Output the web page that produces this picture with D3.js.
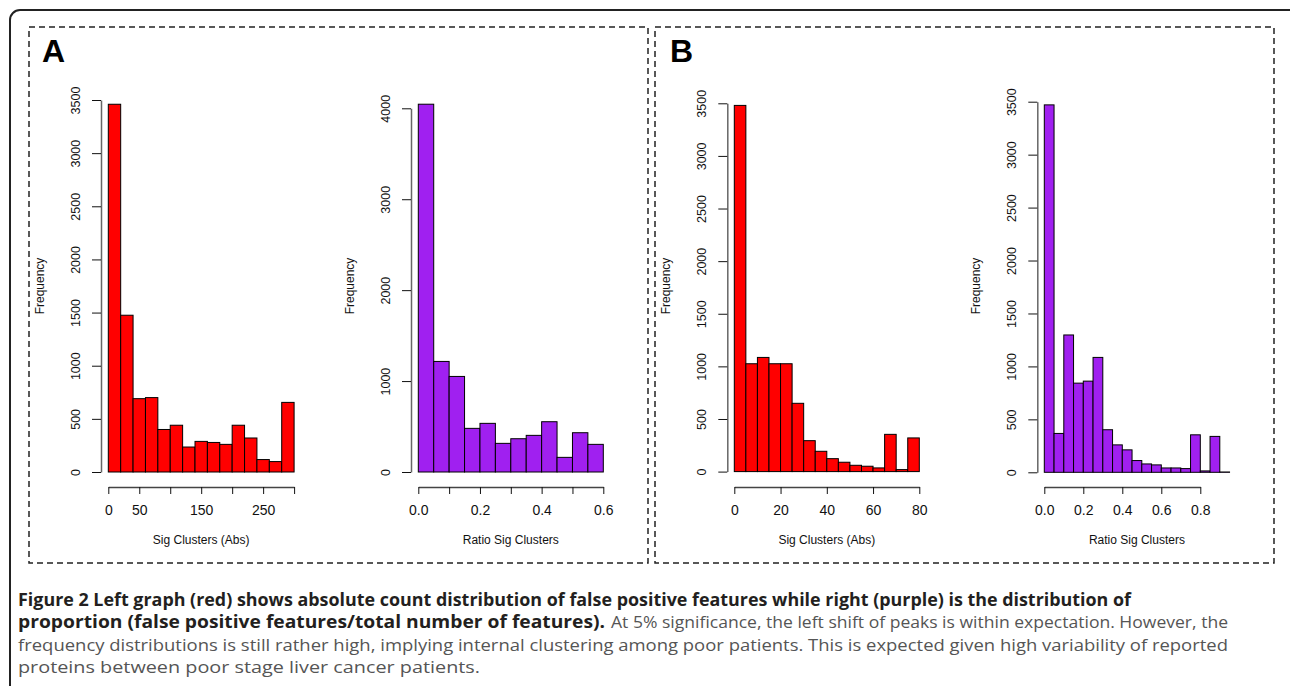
<!DOCTYPE html>
<html>
<head>
<meta charset="utf-8">
<script src="https://cdn.jsdelivr.net/npm/d3@7"></script>
<style>
  body { margin: 0; background: #fff; }
  svg { display: block; font-family: "Liberation Sans", Arial, sans-serif; }
</style>
</head>
<body>
<div id="chart"></div>
<script>
// ---- data ----
// A: absolute counts, bins of 20 (0..300)
const absA = [3460, 1475, 690, 700, 400, 440, 235, 288, 278, 260, 440, 320, 117, 98, 655];
const absABin = 20;
const absAXTicks = [0, 50, 100, 150, 200, 250, 300];
const absAXLabels = ['0', '50', '', '150', '', '250', ''];
const absAYTicks = [0, 500, 1000, 1500, 2000, 2500, 3000, 3500];

// A: ratio, bins of 0.05 (0..0.6)
const ratioA = [4045, 1216, 1051, 480, 535, 315, 366, 403, 553, 161, 432, 304];
const ratioABin = 0.05;
const ratioAXTicks = [0, 0.1, 0.2, 0.3, 0.4, 0.5, 0.6];
const ratioAXLabels = ['0.0', '', '0.2', '', '0.4', '', '0.6'];
const ratioAYTicks = [0, 1000, 2000, 3000, 4000];

// B: absolute counts, bins of 5 (0..80)
const absB = [3480, 1025, 1085, 1025, 1025, 649, 294, 193, 123, 89, 60, 51, 35, 354, 19, 320];
const absBBin = 5;
const absBXTicks = [0, 20, 40, 60, 80];
const absBXLabels = ['0', '20', '40', '60', '80'];
const absBYTicks = [0, 500, 1000, 1500, 2000, 2500, 3000, 3500];

// B: ratio, bins of 0.05 (0..0.95)
const ratioB = [3470, 367, 1297, 842, 861, 1085, 402, 259, 212, 111, 79, 70, 41, 41, 35, 354, 13, 339, 3];
const ratioBBin = 0.05;
const ratioBXTicks = [0, 0.2, 0.4, 0.6, 0.8];
const ratioBXLabels = ['0.0', '0.2', '0.4', '0.6', '0.8'];
const ratioBYTicks = [0, 500, 1000, 1500, 2000, 2500, 3000, 3500];

const captionBold1 = 'Figure 2 Left graph (red) shows absolute count distribution of false positive features while right (purple) is the distribution of';
const captionBold2 = 'proportion (false positive features/total number of features).';
const captionReg2 = 'At 5% significance, the left shift of peaks is within expectation. However, the';
const captionReg3 = 'frequency distributions is still rather high, implying internal clustering among poor patients. This is expected given high variability of reported';
const captionReg4 = 'proteins between poor stage liver cancer patients.';

const W = 1290, H = 686;
const RED = '#ff0000', PURPLE = '#a020f0';

const svg = d3.select('#chart')
  .append('svg')
  .attr('width', W)
  .attr('height', H);

// outer rounded frame (runs off the right/bottom edge)
svg.append('rect')
  .attr('x', 10).attr('y', 10)
  .attr('width', 1300).attr('height', 720)
  .attr('rx', 10)
  .attr('fill', 'none')
  .attr('stroke', '#222')
  .attr('stroke-width', 2);

// dashed panel boxes
[[29, 648], [655, 1274]].forEach(([x0, x1]) => {
  svg.append('rect')
    .attr('x', x0).attr('y', 27)
    .attr('width', x1 - x0).attr('height', 563 - 27)
    .attr('fill', 'none')
    .attr('stroke', '#222')
    .attr('stroke-width', 1.5)
    .attr('stroke-dasharray', '6,4');
});

svg.append('text').text('A')
  .attr('x', 42).attr('y', 62)
  .attr('font-size', 32).attr('font-weight', 'bold');
svg.append('text').text('B')
  .attr('x', 670).attr('y', 62)
  .attr('font-size', 32).attr('font-weight', 'bold');

const plots = [
  { counts: absA, bin: absABin, xTicks: absAXTicks, xLabels: absAXLabels, yTicks: absAYTicks,
    fill: RED, xTitle: 'Sig Clusters (Abs)',
    xDom: [0, 300], xRange: [108.3, 294.1], yDom: [0, 3500], yRange: [472, 100], axisX: 101 },
  { counts: ratioA, bin: ratioABin, xTicks: ratioAXTicks, xLabels: ratioAXLabels, yTicks: ratioAYTicks,
    fill: PURPLE, xTitle: 'Ratio Sig Clusters',
    xDom: [0, 0.6], xRange: [418.3, 603.3], yDom: [0, 4000], yRange: [472, 108.3], axisX: 411 },
  { counts: absB, bin: absBBin, xTicks: absBXTicks, xLabels: absBXLabels, yTicks: absBYTicks,
    fill: RED, xTitle: 'Sig Clusters (Abs)',
    xDom: [0, 80], xRange: [734.3, 919.3], yDom: [0, 3500], yRange: [471.6, 103.3], axisX: 727.3 },
  { counts: ratioB, bin: ratioBBin, xTicks: ratioBXTicks, xLabels: ratioBXLabels, yTicks: ratioBYTicks,
    fill: PURPLE, xTitle: 'Ratio Sig Clusters',
    xDom: [0, 0.8], xRange: [1044.3, 1200.3], yDom: [0, 3500], yRange: [472.3, 101.7], axisX: 1037.3 }
];

const axisY = 487;

plots.forEach(p => {
  const x = d3.scaleLinear().domain(p.xDom).range(p.xRange);
  const y = d3.scaleLinear().domain(p.yDom).range(p.yRange);
  const g = svg.append('g');

  g.selectAll('rect.bar')
    .data(p.counts)
    .enter()
    .append('rect')
    .attr('class', 'bar')
    .attr('x', (d, i) => x(i * p.bin))
    .attr('width', (d, i) => x((i + 1) * p.bin) - x(i * p.bin))
    .attr('y', d => y(d))
    .attr('height', d => y(0) - y(d))
    .attr('fill', p.fill)
    .attr('stroke', '#000')
    .attr('stroke-width', 1);

  // y axis
  const yAxis = d3.axisLeft(y)
    .tickValues(p.yTicks)
    .tickFormat(d3.format('d'))
    .tickSize(9)
    .tickSizeOuter(0);
  const yg = g.append('g')
    .attr('transform', `translate(${p.axisX},0)`)
    .call(yAxis);
  yg.select('.domain').attr('stroke', '#666').attr('stroke-width', 1.5);
  yg.selectAll('.tick line').attr('stroke', '#111');
  yg.selectAll('.tick text')
    .attr('transform', 'rotate(-90)')
    .attr('x', 0).attr('y', -21).attr('dy', 0)
    .attr('text-anchor', 'middle')
    .attr('font-size', 12.5)
    .attr('font-family', '"Liberation Sans", Arial, sans-serif')
    .attr('fill', '#111');

  // x axis
  const xAxis = d3.axisBottom(x)
    .tickValues(p.xTicks)
    .tickFormat((d, i) => p.xLabels[i])
    .tickSize(7)
    .tickSizeOuter(0);
  const xg = g.append('g')
    .attr('transform', `translate(0,${axisY})`)
    .call(xAxis);
  xg.select('.domain').attr('stroke', '#444').attr('stroke-width', 1.5);
  xg.selectAll('.tick line').attr('stroke', '#111');
  xg.selectAll('.tick text')
    .attr('y', 28).attr('dy', 0)
    .attr('font-size', 14)
    .attr('font-family', '"Liberation Sans", Arial, sans-serif')
    .attr('fill', '#111');

  // axis titles
  const xMid = x((p.counts.length * p.bin) / 2);
  g.append('text').text(p.xTitle)
    .attr('x', xMid).attr('y', 544)
    .attr('text-anchor', 'middle')
    .attr('font-size', 12)
    .attr('fill', '#111');

  g.append('text').text('Frequency')
    .attr('transform', `translate(${p.axisX - 57},${(472 + 100) / 2}) rotate(-90)`)
    .attr('text-anchor', 'middle')
    .attr('font-size', 12)
    .attr('fill', '#111');
});

// caption
const cap = svg.append('g')
  .attr('font-family', '"Open Sans", "Noto Sans", sans-serif')
  .attr('font-size', 17);

const capLine = (txt, x, yb, x1, bold) => cap.append('text')
  .text(txt)
  .attr('x', x).attr('y', yb)
  .attr('textLength', x1 - x)
  .attr('lengthAdjust', 'spacingAndGlyphs')
  .attr('font-weight', bold ? 700 : 400)
  .attr('fill', bold ? '#231f20' : '#555');

capLine(captionBold1, 18, 606, 1131, true);
capLine(captionBold2, 18, 628, 605, true);
capLine(captionReg2, 611, 628, 1228, false);
capLine(captionReg3, 18, 651, 1228, false);
capLine(captionReg4, 18, 673, 480, false);
</script>
</body>
</html>
